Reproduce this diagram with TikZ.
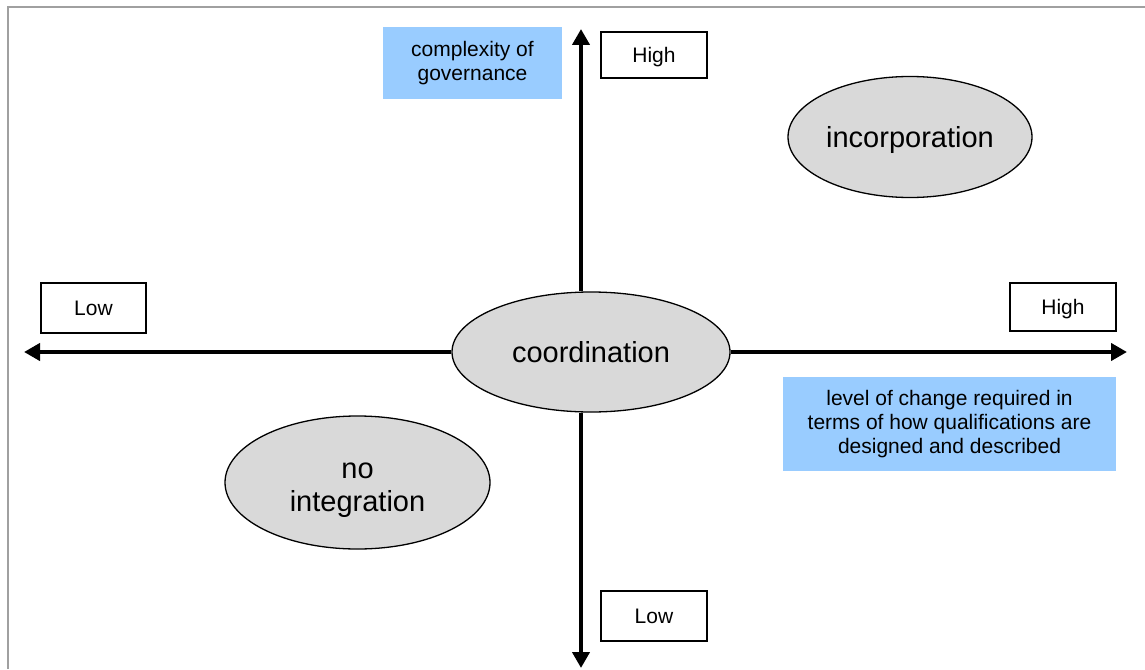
\documentclass[tikz,border=0pt]{standalone}
\usepackage{fontspec}
\setmainfont{Liberation Sans}
\usetikzlibrary{shapes.geometric,arrows.meta}
\definecolor{notefill}{HTML}{99CCFF}
\definecolor{blobfill}{HTML}{D9D9D9}
\definecolor{framegray}{HTML}{A0A0A0}
\begin{document}
\begin{tikzpicture}[x=1pt, y=-1pt,
    axis/.style={line width=4.5pt, -{Triangle[length=16pt, width=17pt]}},
    levelbox/.style={draw, line width=1.3pt, fill=white, align=center, inner sep=0pt,
        text height=15pt, text depth=0pt,
        minimum width=106pt, minimum height=48pt, font=\fontsize{21}{24}\selectfont},
    note/.style={fill=notefill, align=center, inner sep=0pt, font=\fontsize{21}{24}\selectfont},
    blob/.style={ellipse, draw, line width=1.3pt, fill=blobfill, align=center, inner sep=0pt,
        font=\fontsize{29}{33}\selectfont}]

    \useasboundingbox (0, 0) rectangle (1145, 669);

    % Frame
    \draw[framegray, line width=1.5pt] (8, 669) -- (8, 7) -- (1145, 7);

    % Axis ends
    \coordinate (leftend) at (24, 352);
    \coordinate (rightend) at (1127, 352);
    \coordinate (topend) at (581, 29);
    \coordinate (bottomend) at (581, 668);

    % Quadrant labels
    \node[blob, text height=21pt, text depth=0pt, minimum width=278pt, minimum height=120pt]
        (coord) at (591, 352) {coordination};
    \node[blob, text height=21pt, text depth=0pt, minimum width=244pt, minimum height=121pt]
        (incorp) at (910, 137) {incorporation};
    \node[blob, minimum width=265pt, minimum height=133pt] (nointeg) at (357.5, 482.5)
        {\rule{0pt}{32pt}no\\integration};

    % Axes
    \draw[axis] (coord.west) -- (leftend);
    \draw[axis] (coord.east) -- (rightend);
    \draw[axis] (coord.north -| topend) -- (topend);
    \draw[axis] (coord.south -| bottomend) -- (bottomend);

    % Axis descriptions
    \node[note, minimum width=179pt, minimum height=72pt] (govnote) at (472.5, 63)
        {complexity of\\governance};
    \node[note, minimum width=333pt, minimum height=94pt] (changenote) at (949.5, 424)
        {level of change required in\\terms of how qualifications are\\designed and described};

    % High / Low markers
    \node[levelbox, minimum height=46pt] (tophigh) at (654, 55) {High};
    \node[levelbox, minimum height=50pt] (bottomlow) at (654, 616) {Low};
    \node[levelbox, minimum width=105pt, minimum height=50pt] (leftlow) at (93.5, 308) {Low};
    \node[levelbox] (righthigh) at (1063, 307) {High};

\end{tikzpicture}
\end{document}
